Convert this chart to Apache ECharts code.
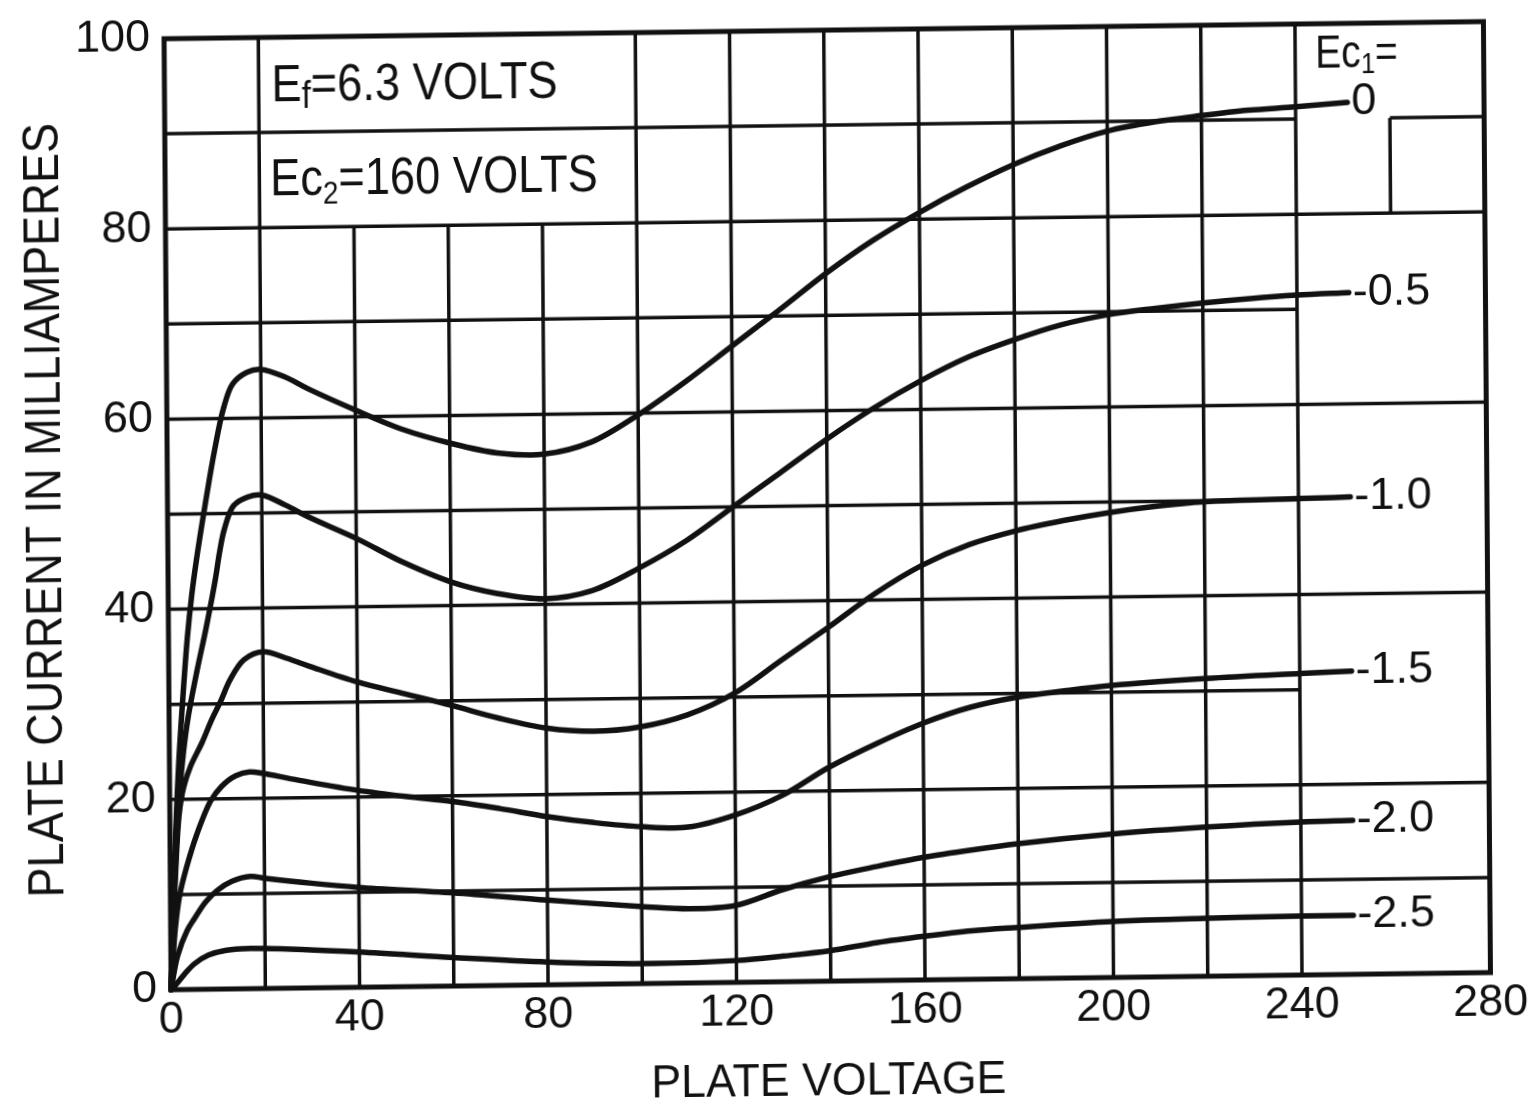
<!DOCTYPE html>
<html>
<head>
<meta charset="utf-8">
<script src="https://cdn.jsdelivr.net/npm/echarts@6/dist/echarts.min.js"></script>
<style>
html,body{margin:0;padding:0;background:#fff;overflow:hidden;}
#wrap{width:1528px;height:1120px;transform-origin:764px 560px;transform:matrix(1,-0.013,0.0074,1,0,0);}
#chart{width:1528px;height:1120px;}
</style>
</head>
<body>
<div id="wrap"><div id="chart"></div></div>
<script>
// ---- Data (plate voltage V, plate current mA) ----
const ecLabels = ['0', '-0.5', '-1.0', '-1.5', '-2.0', '-2.5'];

const ec0 = [[0,0],[1,14],[2,24],[3,31],[4,37],[5,41.5],[6,45],[8,51],[10,56.5],[12,61],[14,63.6],[17,64.8],[20,65.1],[25,64.3],[30,63.0],[40,60.7],[50,58.6],[60,57.1],[70,56.0],[80,55.8],[90,57.0],[100,59.8],[110,63.2],[120,66.9],[130,70.6],[140,74.4],[150,77.8],[160,80.7],[170,83.3],[180,85.6],[190,87.5],[200,89.0],[210,89.9],[220,90.5],[230,91.0],[240,91.3],[251,91.7]];

const ec05 = [[0,0],[1,12],[2,20],[3,25],[4,28.5],[6,33.5],[8,38],[10,43],[11,46],[12,48.3],[14,50.8],[17,51.7],[20,51.9],[25,50.8],[30,49.5],[40,47.2],[50,44.6],[60,42.5],[70,41.2],[80,40.6],[90,41.4],[100,43.7],[110,46.5],[120,50.0],[130,53.5],[140,57.0],[150,60.2],[160,63.0],[170,65.4],[180,67.2],[190,68.7],[200,69.7],[210,70.3],[220,70.8],[230,71.2],[240,71.5],[251,71.7]];

const ec10 = [[0,0],[1,11],[2,18.5],[3,21.3],[4.5,23.5],[7,26],[9,28.3],[11,30.3],[13,32.5],[16,34.6],[20,35.4],[25,34.7],[30,33.8],[40,32.1],[50,30.8],[60,29.5],[70,28.1],[80,27.0],[90,26.6],[100,27.0],[110,28.2],[120,30.4],[130,33.8],[140,37.2],[150,40.7],[160,43.6],[170,45.7],[180,47.1],[190,48.1],[200,48.9],[210,49.5],[220,49.9],[240,50.1],[251,50.2]];

const ec15 = [[0,0],[1,6.5],[2,10],[3.5,12.9],[5.7,16.3],[8.7,19.8],[11,21.3],[14,22.4],[17,22.8],[20,22.6],[25,22.1],[30,21.6],[40,20.7],[50,20.0],[60,19.4],[70,18.6],[80,17.7],[90,17.0],[100,16.5],[110,16.4],[120,17.6],[130,19.6],[140,22.5],[150,24.9],[160,27.0],[170,28.6],[180,29.6],[190,30.2],[200,30.7],[220,31.3],[240,31.7],[251,31.9]];

const ec20 = [[0,0],[1.4,3.5],[3.5,6.2],[5,7.4],[7.5,9.2],[10,10.4],[13,11.3],[17,11.8],[20,11.6],[30,11.0],[40,10.5],[60,9.8],[80,8.9],[100,8.1],[110,7.8],[120,8.1],[130,9.7],[140,11.0],[150,12.0],[160,12.9],[170,13.6],[180,14.2],[200,15.1],[220,15.7],[240,16.1],[251,16.2]];

const ec25 = [[0,0],[1.5,0.8],[3,1.7],[5,2.7],[8,3.6],[11,4.0],[15,4.2],[20,4.2],[40,3.7],[60,3.0],[80,2.4],[100,2.1],[120,2.3],[130,2.7],[140,3.2],[150,4.0],[160,4.6],[170,5.1],[180,5.4],[200,5.9],[220,6.1],[240,6.2],[251,6.2]];

const curves = [ec0, ec05, ec10, ec15, ec20, ec25];

// axis ticks
const xTicks = [0, 40, 80, 120, 160, 200, 240, 280];
const yTicks = [0, 20, 40, 60, 80, 100];

// grid rulings of the printed sheet: [x, yFrom, yTo] and [y, xFrom, xTo]
const vRules = [[20,0,100],[40,0,80],[60,0,80],[80,0,80],[100,0,100],[120,0,100],[140,0,100],[160,0,100],[180,0,100],[200,0,100],[220,0,100],[240,0,100],[260,80,90]];
const hRules = [[10,0,280],[20,0,280],[30,0,240],[40,0,280],[50,0,240],[60,0,280],[70,0,240],[80,0,280],[90,0,240],[90,260,280]];

// ---- Build ----
const FONT = '"Liberation Sans", Arial, sans-serif';
const INK = '#111';

const ruleSegs = [];
vRules.forEach(r => ruleSegs.push([r[0], r[1], r[0], r[2]]));
hRules.forEach(r => ruleSegs.push([r[1], r[0], r[2], r[0]]));

// centripetal Catmull-Rom through the projected data points -> cubic Bezier path
function curvePath(pts) {
  const dist = (a, b) => Math.hypot(b[0] - a[0], b[1] - a[1]);
  let d = 'M' + pts[0][0] + ' ' + pts[0][1];
  for (let i = 0; i < pts.length - 1; i++) {
    const p0 = pts[i - 1] || pts[i], p1 = pts[i], p2 = pts[i + 1], p3 = pts[i + 2] || pts[i + 1];
    const d1 = dist(p0, p1), d2 = dist(p1, p2), d3 = dist(p2, p3);
    const d1a = Math.sqrt(d1), d2a = Math.sqrt(d2), d3a = Math.sqrt(d3);
    let b1 = p1, b2 = p2;
    if (d1 > 1e-6) {
      const k = 3 * d1a * (d1a + d2a);
      b1 = [0, 1].map(j => (d1 * p2[j] - d2 * p0[j] + (2 * d1 + 3 * d1a * d2a + d2) * p1[j]) / k);
    } else {
      b1 = [0, 1].map(j => p1[j] + (p2[j] - p1[j]) / 3);
    }
    if (d3 > 1e-6) {
      const k = 3 * d3a * (d3a + d2a);
      b2 = [0, 1].map(j => (d3 * p1[j] - d2 * p3[j] + (2 * d3 + 3 * d3a * d2a + d2) * p2[j]) / k);
    } else {
      b2 = [0, 1].map(j => p2[j] - (p2[j] - p1[j]) / 3);
    }
    d += ' C' + b1[0] + ' ' + b1[1] + ' ' + b2[0] + ' ' + b2[1] + ' ' + p2[0] + ' ' + p2[1];
  }
  return d;
}

const chart = echarts.init(document.getElementById('chart'), null, {renderer: 'canvas'});

const option = {
  animation: false,
  backgroundColor: '#fff',
  grid: {left: 168, right: 29, top: 31, bottom: 138, show: true, borderColor: INK, borderWidth: 5, backgroundColor: 'transparent'},
  xAxis: {
    type: 'value', min: xTicks[0], max: xTicks[xTicks.length - 1], interval: 40,
    axisLine: {show: false}, axisTick: {show: false}, splitLine: {show: false},
    axisLabel: {fontSize: 45, fontFamily: FONT, color: INK, margin: 8}
  },
  yAxis: {
    type: 'value', min: yTicks[0], max: yTicks[yTicks.length - 1], interval: 20,
    axisLine: {show: false}, axisTick: {show: false}, splitLine: {show: false},
    axisLabel: {fontSize: 45, fontFamily: FONT, color: INK, margin: 14}
  },
  series: [
    {
      type: 'custom',
      silent: true,
      z: 1,
      clip: false,
      data: ruleSegs,
      encode: {x: [0, 2], y: [1, 3]},
      renderItem: function (params, api) {
        const p1 = api.coord([api.value(0), api.value(1)]);
        const p2 = api.coord([api.value(2), api.value(3)]);
        return {type: 'line', shape: {x1: p1[0], y1: p1[1], x2: p2[0], y2: p2[1]},
          style: {stroke: INK, lineWidth: 3.5}};
      }
    },
    {
      type: 'custom',
      name: 'Ec1 curves',
      silent: true,
      z: 5,
      clip: false,
      data: curves.map((c, i) => [c[c.length - 1][0], c[c.length - 1][1], i]),
      encode: {x: 0, y: 1},
      renderItem: function (params, api) {
        const idx = api.value(2);
        const pts = curves[idx].map(p => api.coord(p));
        const last = pts[pts.length - 1];
        return {type: 'group', children: [
          {type: 'path', shape: {pathData: curvePath(pts)},
            style: {stroke: INK, lineWidth: 5.5, fill: 'none', lineCap: 'round', lineJoin: 'round'}},
          {type: 'text', x: last[0] + 4, y: last[1],
            style: {text: ecLabels[idx], fontSize: 45, fontFamily: FONT, fill: INK, align: 'left', verticalAlign: 'middle'}}
        ]};
      }
    }
  ],
  graphic: [
    {type: 'text', x: 47, y: 501, rotation: Math.PI / 2, scaleX: 0.9, silent: true,
      style: {text: 'PLATE CURRENT IN MILLIAMPERES', fontSize: 50, fontFamily: FONT, fill: INK, align: 'center', verticalAlign: 'middle'}},
    {type: 'text', x: 825, y: 1083, scaleX: 0.95, silent: true,
      style: {text: 'PLATE VOLTAGE', fontSize: 47, fontFamily: FONT, fill: INK, align: 'center', verticalAlign: 'middle'}},
    {type: 'text', x: 275, y: 81, scaleX: 0.87, silent: true,
      style: {text: '{b|E}{s|f}{b|=6.3 VOLTS}', align: 'left', verticalAlign: 'middle',
        rich: {b: {fontSize: 52, fontFamily: FONT, fill: INK, lineHeight: 60},
               s: {fontSize: 38, fontFamily: FONT, fill: INK, lineHeight: 24, verticalAlign: 'bottom'}}}},
    {type: 'text', x: 273, y: 175, scaleX: 0.87, silent: true,
      style: {text: '{b|Ec}{s|2}{b|=160 VOLTS}', align: 'left', verticalAlign: 'middle',
        rich: {b: {fontSize: 52, fontFamily: FONT, fill: INK, lineHeight: 60},
               s: {fontSize: 32, fontFamily: FONT, fill: INK, lineHeight: 10, verticalAlign: 'bottom'}}}},
    {type: 'text', x: 1319, y: 62, scaleX: 0.85, silent: true,
      style: {text: '{b|Ec}{s|1}{b|=}', align: 'left', verticalAlign: 'middle',
        rich: {b: {fontSize: 46, fontFamily: FONT, fill: INK, lineHeight: 52},
               s: {fontSize: 30, fontFamily: FONT, fill: INK, lineHeight: 14, verticalAlign: 'bottom'}}}}
  ]
};

chart.setOption(option);
</script>
</body>
</html>
